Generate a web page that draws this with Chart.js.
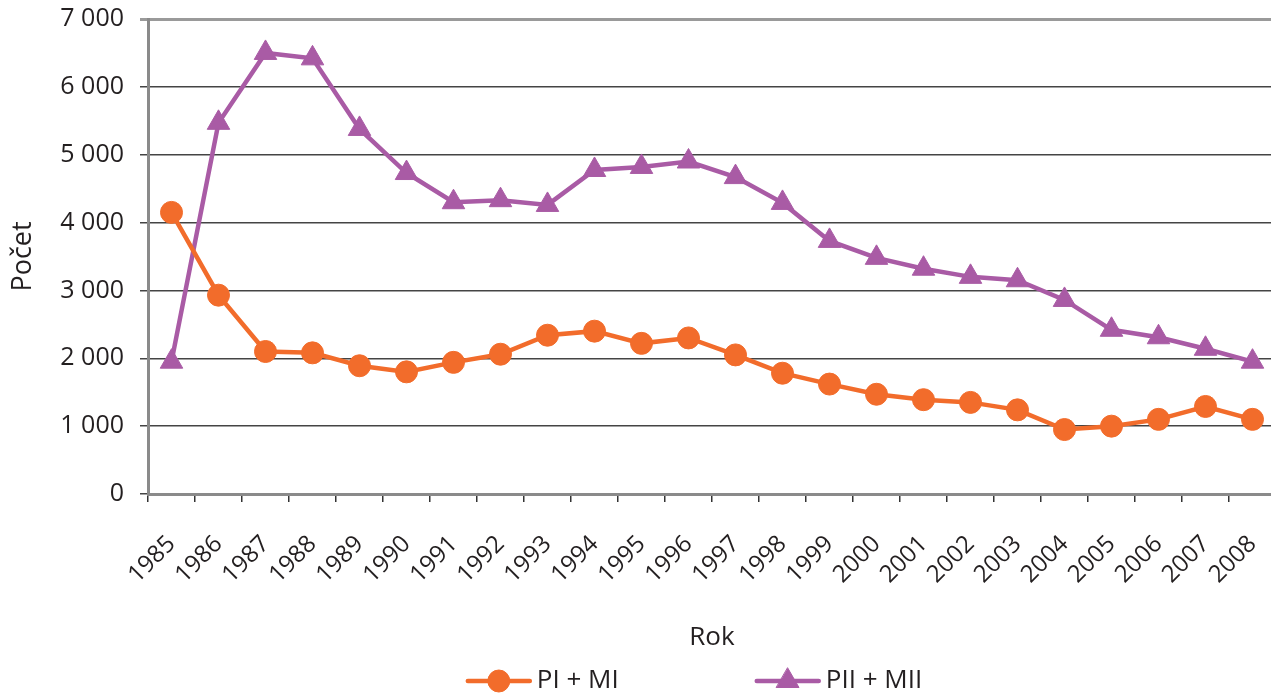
<!DOCTYPE html>
<html>
<head>
<meta charset="utf-8">
<script src="https://cdn.jsdelivr.net/npm/chart.js@4.4.0/dist/chart.umd.min.js"></script>
<style>
    html, body { margin: 0; padding: 0; background: #fff; overflow: hidden; }
    #wrap { width: 1290px; height: 693px; }
</style>
</head>
<body>
<div id="wrap"><canvas id="chart" width="1290" height="693"></canvas></div>
<script>
const years = ['1985', '1986', '1987', '1988', '1989', '1990', '1991', '1992', '1993', '1994', '1995', '1996',
               '1997', '1998', '1999', '2000', '2001', '2002', '2003', '2004', '2005', '2006', '2007', '2008'];
const piMi = [4150, 2930, 2100, 2080, 1890, 1800, 1940, 2060, 2340, 2400, 2220, 2300,
              2050, 1780, 1620, 1470, 1390, 1350, 1240, 950, 1000, 1100, 1290, 1100];
const piiMii = [1950, 5470, 6500, 6420, 5380, 4730, 4300, 4330, 4260, 4775, 4820, 4900,
                4670, 4290, 3730, 3480, 3320, 3200, 3150, 2860, 2420, 2310, 2140, 1950];
const yTickLabels = ['0', '1 000', '2 000', '3 000', '4 000', '5 000', '6 000', '7 000'];

const orange = '#f26c2b';
const purple = '#a95ba5';
const textColor = '#231f20';
const fontFamily = '"Open Sans", sans-serif';

// legenda dole: čára se značkou uprostřed, jako v Excelu
const bottomLegend = {
    id: 'bottomLegend',
    afterDraw(chart) {
        const ctx = chart.ctx;
        const area = chart.chartArea;
        const y = 681;
        const lineLen = 62, gap = 7, spacing = 138;
        ctx.save();
        ctx.font = '26px ' + fontFamily;
        const items = chart.data.datasets.map(ds => ({ ds, w: lineLen + gap + ctx.measureText(ds.label).width }));
        const total = items.reduce((s, it) => s + it.w, 0) + spacing * (items.length - 1);
        let x = (area.left + area.right) / 2 - 17 - total / 2;
        items.forEach(it => {
            const ds = it.ds;
            ctx.strokeStyle = ds.borderColor;
            ctx.lineWidth = 4.5;
            ctx.lineCap = 'round';
            ctx.beginPath();
            ctx.moveTo(x, y);
            ctx.lineTo(x + lineLen, y);
            ctx.stroke();
            ctx.fillStyle = ds.pointBackgroundColor;
            ctx.strokeStyle = ds.pointBorderColor;
            ctx.lineWidth = 1;
            Chart.helpers.drawPoint(ctx, { pointStyle: ds.pointStyle, radius: ds.pointRadius, borderWidth: 1, rotation: 0 }, x + lineLen / 2, y);
            ctx.fillStyle = textColor;
            ctx.textAlign = 'left';
            ctx.textBaseline = 'middle';
            ctx.fillText(ds.label, x + lineLen + gap, y);
            x += it.w + spacing;
        });
        ctx.restore();
    }
};

new Chart(document.getElementById('chart').getContext('2d'), {
    type: 'line',
    data: {
        labels: years,
        datasets: [{
            label: 'PI + MI',
            data: piMi,
            borderColor: orange,
            backgroundColor: orange,
            pointBackgroundColor: orange,
            pointBorderColor: orange,
            borderWidth: 4.5,
            pointStyle: 'circle',
            pointRadius: 11,
            pointBorderWidth: 1,
            tension: 0
        }, {
            label: 'PII + MII',
            data: piiMii,
            borderColor: purple,
            backgroundColor: purple,
            pointBackgroundColor: purple,
            pointBorderColor: purple,
            borderWidth: 4.5,
            pointStyle: 'triangle',
            pointRadius: 13,
            pointBorderWidth: 1,
            tension: 0
        }]
    },
    options: {
        responsive: false,
        animation: false,
        layout: { padding: { top: 19, right: 10, left: 0, bottom: 0 } },
        plugins: {
            legend: { display: false },
            tooltip: { enabled: false }
        },
        scales: {
            x: {
                offset: true,
                afterFit(s) {
                    s.height = 693 - 494;
                    s.paddingLeft = 0;
                    s.paddingRight = 0;
                },
                grid: {
                    offset: true,
                    drawOnChartArea: false,
                    drawTicks: true,
                    tickLength: 8,
                    color: '#333',
                    lineWidth: 1.5
                },
                border: { color: '#8a8a8a', width: 3 },
                ticks: {
                    color: textColor,
                    font: { family: fontFamily, size: 24 },
                    minRotation: 45,
                    maxRotation: 45,
                    autoSkip: false,
                    padding: 28
                },
                title: {
                    display: true,
                    text: 'Rok',
                    color: textColor,
                    font: { family: fontFamily, size: 26 },
                    padding: { top: 0, bottom: 40 }
                }
            },
            y: {
                min: 0,
                max: 7000,
                afterFit(s) {
                    s.width = 148;
                    s.paddingTop = 0;
                    s.paddingBottom = 0;
                },
                grid: {
                    color: ctx => ctx.tick && ctx.tick.value === 7000 ? '#9a9a9a' : '#444',
                    lineWidth: ctx => ctx.tick && ctx.tick.value === 7000 ? 3 : 1.5,
                    tickLength: 8
                },
                border: { color: '#8a8a8a', width: 3 },
                ticks: {
                    stepSize: 1000,
                    color: textColor,
                    font: { family: fontFamily, size: 25 },
                    padding: 16,
                    callback: v => yTickLabels[Math.round(v / 1000)]
                },
                title: {
                    display: true,
                    text: 'Počet',
                    color: textColor,
                    font: { family: fontFamily, size: 27 },
                    padding: { top: 7, bottom: 0 }
                }
            }
        }
    },
    plugins: [bottomLegend]
});
</script>
</body>
</html>
